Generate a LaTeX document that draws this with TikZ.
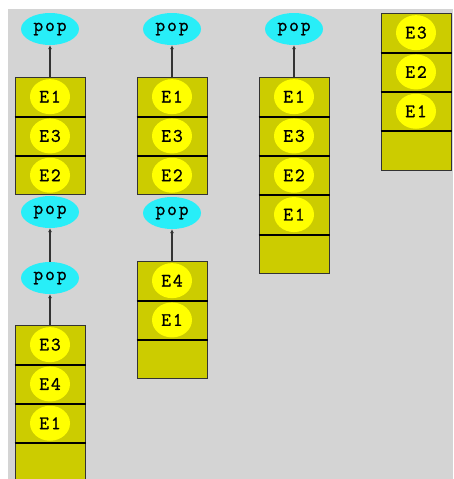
\documentclass[tikz,border=0pt]{standalone}
\usepackage{fontspec}
\newfontfamily\stackfont[LetterSpace=10, FakeBold=1.2]{Latin Modern Mono}
\usetikzlibrary{shapes.geometric, arrows.meta}
\definecolor{fondGris}{RGB}{212, 212, 212}
\definecolor{celluleOlive}{RGB}{204, 204, 0}
\definecolor{elemJaune}{RGB}{255, 255, 0}
\definecolor{popCyan}{RGB}{40, 238, 248}

% one stack: name, x centre, y of top edge, elements, number of cells
\newcommand{\drawstack}[5]{
  \foreach \k in {1,...,#5}
    \node[cell] (#1-\k) at (#2, #3+19.65+39.3*\k-39.3) {};
  \foreach \t [count=\k] in {#4}
    \node[elem] (#1-e\k) at (#1-\k) {\t};
  \pgfmathtruncatemacro{\last}{#5-1}
  \foreach \k in {1,...,\last}
    \draw[divider] (#1-\k.south west) -- (#1-\k.south east);
}

\begin{document}
\begin{tikzpicture}[x=1pt, y=-1pt,
  cell/.style={rectangle, draw=black!80, fill=celluleOlive, line width=1pt,
    minimum width=70pt, minimum height=39.3pt, inner sep=0pt},
  elem/.style={ellipse, fill=elemJaune, minimum width=40pt,
    minimum height=35pt, inner sep=0pt,
    font=\stackfont\fontsize{19}{19}\selectfont},
  popnode/.style={ellipse, fill=popCyan, minimum width=58pt,
    minimum height=32pt, inner sep=0pt,
    font=\stackfont\fontsize{19}{19}\selectfont},
  divider/.style={line width=2pt, black},
  arr/.style={-{Latex[length=4pt, width=4pt]}, line width=1.2pt,
    draw=black!80},
]
\useasboundingbox (0,0) rectangle (453,479);
\clip (0,0) rectangle (453,479);
\fill[fondGris] (8,9) rectangle (453,479);

% top row
\drawstack{sa}{50}{77}{E1,E3,E2}{3}
\drawstack{sb}{172}{77}{E1,E3,E2}{3}
\drawstack{sc}{294}{77}{E1,E3,E2,E1}{5}
\drawstack{sd}{416}{13}{E3,E2,E1}{4}
\node[popnode] (popa) at (50, 29) {pop};
\node[popnode] (popb) at (172, 29) {pop};
\node[popnode] (popc) at (294, 29) {pop};

% lower row
\drawstack{se}{50}{325}{E3,E4,E1}{4}
\drawstack{sf}{172}{261}{E4,E1}{3}
\node[popnode] (pope) at (50, 212) {pop};
\node[popnode] (popee) at (50, 278) {pop};
\node[popnode] (popf) at (172, 213) {pop};

\draw[arr] (sa-1.north) -- (popa.south);
\draw[arr] (sb-1.north) -- (popb.south);
\draw[arr] (sc-1.north) -- (popc.south);
\draw[arr] (sf-1.north) -- (popf.south);
\draw[arr] (se-1.north) -- (popee.south);
\draw[arr] (popee.north) -- (pope.south);
\end{tikzpicture}
\end{document}
